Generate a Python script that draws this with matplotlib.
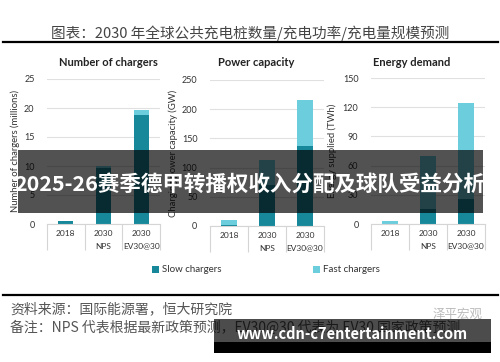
import matplotlib
matplotlib.use('Agg')
import matplotlib.pyplot as plt
from matplotlib.patches import Rectangle
from matplotlib.lines import Line2D

# data
categories = ['2018', '2030\nNPS', '2030\nEV30@30']
chargers_slow = [0.5, 9.6, 18.8]
chargers_fast = [0.05, 0.4, 0.8]
power_slow = [1, 70, 137]
power_fast = [9, 43, 78]
energy_slow = [0.5, 15, 26]
energy_fast = [2.5, 55, 98]

SLOW = '#17889a'
FAST = '#6ccddc'
CJK = ['Noto Sans CJK SC', 'DejaVu Sans']
LAT = ['Lato', 'DejaVu Sans']

W, H = 500, 362


def fx(px):
    return px / W


def fy(py):
    return 1 - py / H


fig = plt.figure(figsize=(5, 3.62), dpi=100)
fig.patch.set_facecolor('white')

panels = [
    # (left, right, top, bottom px), title, title centre, ylabel, slow, fast, ticks, ylabel x
    ((47, 160, 79, 224), 'Number of chargers', 108, 'Number of chargers (millions)',
     chargers_slow, chargers_fast, range(0, 26, 5), -0.24),
    ((210, 324, 80, 226), 'Power capacity', 256, 'Charging power capacity (GW)',
     power_slow, power_fast, range(0, 251, 50), -0.28),
    ((371, 485, 78, 224), 'Energy demand', 412, 'Energy supplied (TWh)',
     energy_slow, energy_fast, range(0, 151, 30), -0.30),
]

bars = []
for (l, r, t, b), title, tx, ylabel, slow, fast, ticks, lx in panels:
    ax = fig.add_axes([fx(l), fy(b), (r - l) / W, (b - t) / H])
    x = range(len(categories))
    s = ax.bar(x, slow, width=0.4, color=SLOW, label='Slow chargers')
    f = ax.bar(x, fast, width=0.4, bottom=slow, color=FAST, label='Fast chargers')
    bars = [s, f]
    ticks = list(ticks)
    ax.set_ylim(0, ticks[-1])
    ax.set_xlim(-0.5, 2.5)
    ax.set_yticks(ticks)
    ax.set_xticks(list(x))
    ax.set_xticklabels(categories, family=LAT, fontsize=6, color='#333333',
                       linespacing=2.0)
    ax.set_xticks([-0.5, 0.5, 1.5, 2.5], minor=True)
    ax.tick_params(axis='x', which='major', length=0, pad=4)
    ax.tick_params(axis='x', which='minor', length=19, width=0.8, color='#d5d5d5',
                   direction='out')
    ax.tick_params(axis='y', length=0, pad=9, labelsize=6.5, labelcolor='#333333')
    for lab in ax.get_yticklabels():
        lab.set_family(LAT)
    ax.grid(axis='y', color='#e0e0e0', lw=0.8)
    ax.set_axisbelow(True)
    for side in ['top', 'right', 'left']:
        ax.spines[side].set_visible(False)
    ax.spines['bottom'].set_color('#d5d5d5')
    ax.set_ylabel(ylabel, family=LAT, fontsize=6.8, color='#333333')
    ax.yaxis.set_label_coords(lx, 0.5)
    fig.text(fx(tx), fy(62), title, family=LAT, fontsize=8, weight='bold',
             color='#222222', ha='center', va='center')

fig.legend(bars, ['Slow chargers', 'Fast chargers'], loc='center',
           bbox_to_anchor=(fx(266), fy(270)), ncol=2, frameon=False,
           prop={'family': LAT, 'size': 7}, handlelength=0.7, handleheight=0.7,
           handletextpad=0.3, columnspacing=9.5, labelcolor='#333333')

# header and footer
fig.text(0.5, fy(33), '图表：2030 年全球公共充电桩数量/充电功率/充电量规模预测',
         family=CJK, fontsize=10.5, color='#444444', ha='center', va='center')
fig.add_artist(Line2D([0.005, 0.995], [fy(42), fy(42)], color='black', lw=1.6))
fig.add_artist(Line2D([0.005, 0.995], [fy(295), fy(295)], color='black', lw=1.6))
fig.text(fx(10), fy(309), '资料来源：国际能源署，恒大研究院', family=CJK,
         fontsize=10, color='#555555', va='center', style='italic')
fig.text(fx(10), fy(328), '备注：NPS 代表根据最新政策预测，EV30@30 代表为 EV30 国家政策预测',
         family=CJK, fontsize=10, color='#555555', va='center', style='italic')
fig.text(fx(483), fy(314), '泽平宏观', family=CJK, fontsize=9, color='#bbbbbb',
         ha='right', va='center')

# overlay banners
fig.add_artist(Rectangle((fx(18), fy(213)), (483 - 18) / W, 63 / H,
                         transform=fig.transFigure, color='black', alpha=0.68,
                         lw=0, zorder=10))
fig.text(fx(250), fy(184), '2025-26赛季德甲转播权收入分配及球队受益分析',
         family=CJK, fontsize=15.5, weight='bold', color='white',
         ha='center', va='center', zorder=11)
fig.add_artist(Rectangle((fx(214), fy(342)), (491 - 214) / W, 23 / H,
                         transform=fig.transFigure, color='black', alpha=0.7,
                         lw=0, zorder=10))
fig.add_artist(Rectangle((fx(214), fy(353)), (491 - 214) / W, 11 / H,
                         transform=fig.transFigure, color='black', lw=0, zorder=10))
fig.text(fx(352), fy(334), 'www.cdn-c7entertainment.com', family=CJK,
         fontsize=10.5, weight='bold', color='white', ha='center', va='center',
         zorder=11)

fig.savefig('out.png', dpi=100)
